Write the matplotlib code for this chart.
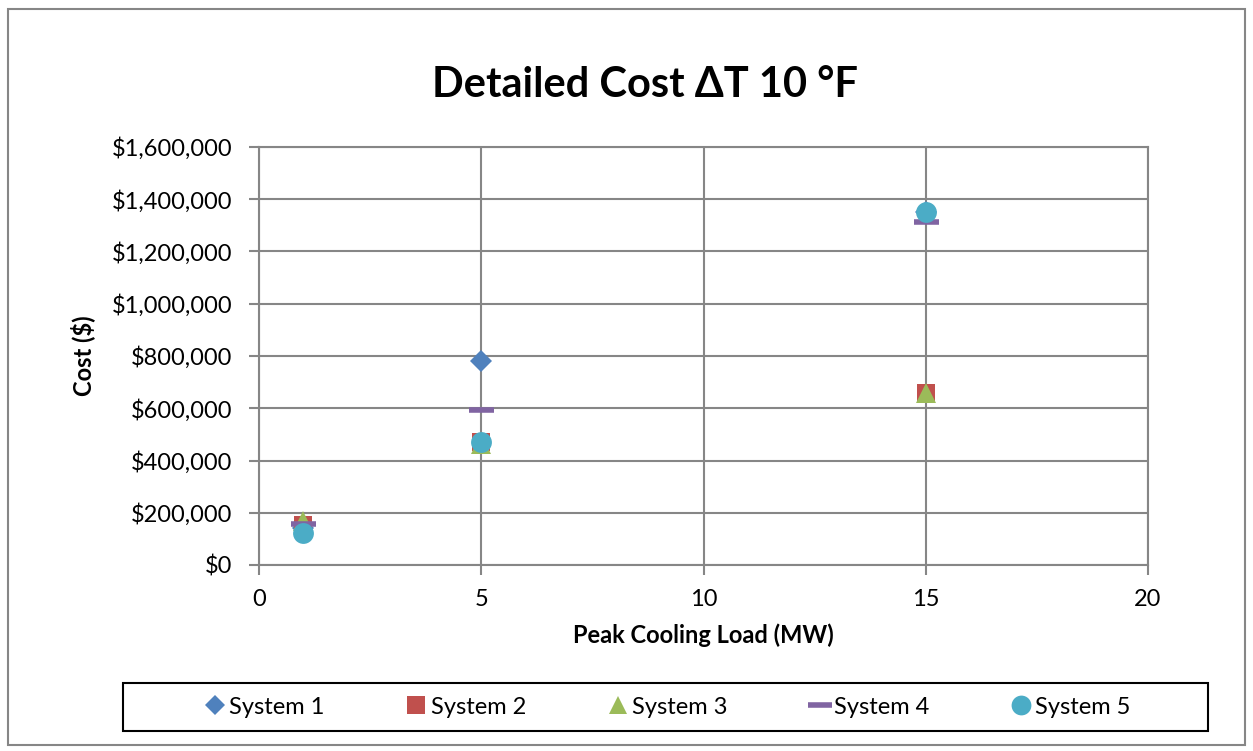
import matplotlib
matplotlib.use("Agg")
import matplotlib.pyplot as plt
from matplotlib.patches import Rectangle
from matplotlib.ticker import FuncFormatter

plt.rcParams['font.family'] = ['Lato', 'DejaVu Sans']

loads = [1, 5, 15]
series_names = ["System 1", "System 2", "System 3", "System 4", "System 5"]
system1 = [140000, 780000, 1350000]
system2 = [155000, 470000, 658000]
system3 = [170000, 465000, 660000]
system4 = [157000, 593000, 1313000]
system5 = [122000, 470000, 1352000]
series_values = [system1, system2, system3, system4, system5]

colors = ["#4F81BD", "#C0504D", "#9BBB59", "#8064A2", "#4BACC6"]
markers = ["D", "s", "^", "_", "o"]
sizes = [11, 13, 14, 18, 15]

W, H = 1253, 751
fig = plt.figure(figsize=(W / 100, H / 100), dpi=100)
ax = fig.add_axes([259 / W, 1 - 565 / H, (1148 - 259) / W, (565 - 147) / H])

for name, vals, c, m, s in zip(series_names, series_values, colors, markers, sizes):
    kw = dict(linestyle="none", marker=m, color=c, markersize=s, label=name)
    if m == "_":
        kw.update(markeredgewidth=4)
    else:
        kw.update(markeredgewidth=0)
    ax.plot(loads, vals, **kw)

ax.set_xlim(0, 20)
ax.set_ylim(0, 1600000)
ax.set_xticks([0, 5, 10, 15, 20])
ax.set_yticks(range(0, 1600001, 200000))
ax.yaxis.set_major_formatter(FuncFormatter(lambda v, p: f"${int(v):,}"))
ax.grid(True, color="#868686", linewidth=1.5)
ax.set_axisbelow(True)
for sp in ax.spines.values():
    sp.set_color("#868686")
    sp.set_linewidth(1.5)
ax.tick_params(axis="both", colors="#868686", labelcolor="black", labelsize=17,
               length=7, width=1.5)
ax.tick_params(axis="y", pad=12)
ax.tick_params(axis="x", pad=10)

ax.set_xlabel("Peak Cooling Load (MW)", fontsize=17, fontweight="bold", labelpad=10)
ax.set_ylabel("Cost ($)", fontsize=17, fontweight="bold", labelpad=12)
fig.text(645 / W, 1 - 85 / H, "Detailed Cost ΔT 10 °F", fontsize=30,
         fontweight="bold", ha="center", va="center")

leg = fig.legend(loc="center", bbox_to_anchor=(668 / W, 1 - 707 / H),
                 ncol=5, fontsize=17, frameon=False,
                 handlelength=0.8, handletextpad=0.2, columnspacing=3.5,
                 markerscale=0.95)

fig.patches.append(Rectangle((123 / W, 1 - 731 / H), (1208 - 123) / W, 48 / H,
                             transform=fig.transFigure, fill=False,
                             edgecolor="black", linewidth=1.5))
fig.patches.append(Rectangle((8 / W, 1 - 745 / H), (1245 - 8) / W, (745 - 9) / H,
                             transform=fig.transFigure, fill=False,
                             edgecolor="#868686", linewidth=1.5))

fig.savefig("out.png", dpi=100)
